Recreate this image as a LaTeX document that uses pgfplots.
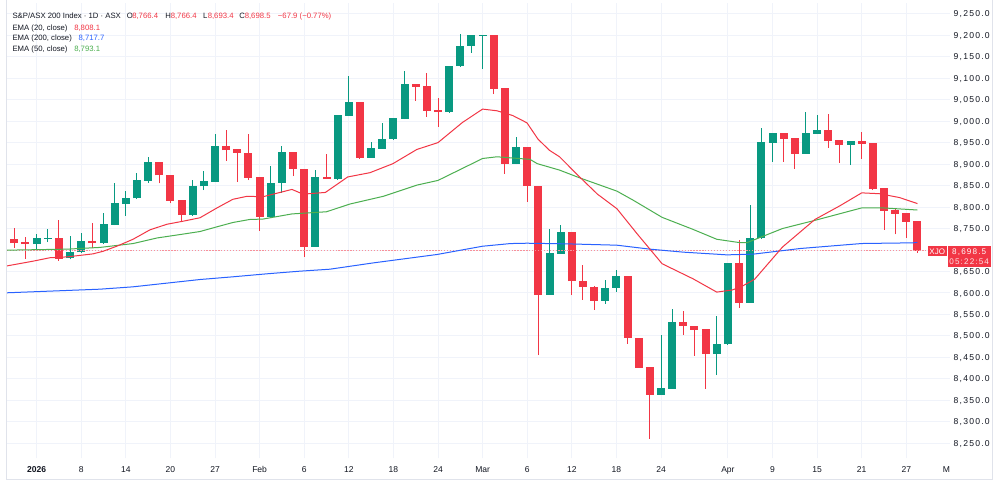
\documentclass[border=0pt]{standalone}
\usepackage{fontspec}
\setmainfont{Liberation Sans}
\newfontfamily\pricefont[LetterSpace=14]{Liberation Sans}
\usepackage{pgfplots}
\pgfplotsset{compat=1.18}
\usepackage{pgfplotstable}
\definecolor{upc}{HTML}{089981}
\definecolor{dnc}{HTML}{F23645}
\definecolor{emab}{HTML}{2962FF}
\definecolor{emag}{HTML}{4CAF50}
\definecolor{emar}{HTML}{F23645}
\definecolor{txt}{HTML}{131722}
\definecolor{gridc}{HTML}{F0F3FA}
\definecolor{framec}{HTML}{E0E3EB}

\pgfplotstableread{
i O H L C
2 8713.6 8736.1 8699.6 8726.0
3 8726.8 8749.3 8718.2 8728.3
5 8681.0 8733.0 8677.9 8694.2
6 8695.0 8738.5 8691.9 8719.8
8 8715.9 8785.0 8715.0 8758.6
9 8758.6 8854.8 8758.0 8807.5
10 8806.7 8837.0 8779.6 8819.9
11 8819.9 8880.4 8819.0 8861.0
12 8861.0 8916.1 8856.4 8902.9
16 8781.1 8864.1 8780.0 8848.6
17 8848.0 8884.3 8839.3 8859.5
18 8858.7 8968.9 8858.0 8941.0
23 8777.1 8895.8 8775.6 8856.3
24 8856.3 8943.2 8833.0 8926.9
27 8707.3 8885.8 8707.0 8868.7
29 8865.0 9013.8 8864.0 9013.8
30 9013.0 9105.4 9012.0 9043.3
32 8915.2 8951.7 8914.4 8936.2
33 8936.2 8996.0 8935.4 8958.7
34 8958.0 9007.6 8957.0 9006.0
35 9005.3 9117.0 9004.5 9085.2
39 9020.8 9129.4 9020.0 9127.9
40 9128.0 9203.9 9127.0 9175.2
41 9175.2 9198.5 9158.9 9198.5
42 9198.5 9200.8 9120.9 9200.8
45 8900.5 8963.4 8900.0 8938.5
48 8596.3 8750.0 8596.0 8691.8
49 8691.8 8759.3 8691.0 8741.4
53 8581.6 8631.2 8575.4 8611.8
54 8611.8 8654.5 8601.7 8639.0
58 8363.5 8503.2 8363.0 8377.5
59 8377.5 8562.2 8376.7 8532.7
63 8457.4 8547.4 8408.5 8480.7
64 8480.7 8670.0 8480.0 8670.0
66 8577.7 8803.6 8577.0 8727.5
67 8727.5 8985.1 8726.7 8950.2
68 8950.2 8972.7 8905.2 8972.7
71 8924.6 9021.6 8923.8 8970.4
72 8970.4 9015.4 8969.6 8978.2
75 8944.8 8954.0 8897.5 8951.8
}\up

\pgfplotstableread{
i O H L C
0 8723.7 8750.8 8705.8 8715.9
1 8717.5 8730.7 8680.2 8713.6
4 8727.6 8770.2 8674.8 8680.2
7 8719.8 8761.7 8705.8 8715.9
13 8902.9 8903.0 8854.8 8873.5
14 8874.2 8874.2 8808.3 8814.5
15 8814.5 8814.5 8767.1 8781.1
19 8941.0 8979.0 8907.6 8932.4
20 8933.2 8934.0 8858.7 8926.2
21 8926.1 8971.1 8862.5 8868.7
22 8868.7 8868.7 8744.5 8777.1
25 8926.9 8926.9 8871.8 8888.1
26 8888.1 8888.1 8684.0 8707.3
28 8868.7 8924.6 8864.8 8864.8
31 9043.3 9043.3 8912.2 8915.2
36 9085.2 9085.2 9047.2 9080.5
37 9081.3 9112.4 9009.9 9023.9
38 9024.7 9054.9 8986.6 9020.8
43 9200.8 9200.8 9062.7 9075.9
44 9075.9 9075.9 8878.0 8900.5
46 8938.5 8938.5 8812.0 8848.5
47 8848.5 8848.5 8455.1 8596.3
50 8741.4 8741.4 8594.8 8627.4
51 8627.4 8664.6 8584.7 8614.9
52 8614.2 8615.7 8561.4 8581.6
55 8639.0 8639.0 8482.2 8495.4
56 8495.4 8495.4 8425.6 8426.4
57 8426.4 8426.4 8261.1 8363.5
60 8532.7 8558.3 8501.6 8523.4
61 8523.4 8523.4 8453.5 8514.8
62 8514.8 8514.8 8377.5 8457.4
65 8670.0 8722.8 8566.1 8577.7
69 8972.7 8972.7 8905.2 8959.5
70 8960.3 8960.3 8889.7 8924.6
73 8978.2 9016.2 8937.8 8954.1
74 8954.1 8954.1 8902.9 8944.8
76 8951.8 8975.1 8911.4 8947.9
77 8947.9 8947.9 8839.3 8841.6
78 8842.4 8842.4 8747.7 8791.1
79 8791.9 8797.4 8736.1 8784.9
80 8784.9 8784.9 8729.1 8765.5
81 8766.4 8766.4 8693.4 8698.5
}\dn

\newcommand\lgf{\fontsize{5.8}{7}\selectfont}
\newcommand\axf{\fontsize{6.4}{7.5}\selectfont}
\pgfplotsset{candle/.style={forget plot, only marks, mark=*, mark size=0pt,
  mark options={draw=none, fill=none, opacity=0}}}

\begin{document}
\begin{tikzpicture}
\begin{scope}[shift={(-5.25pt,341.25pt)}, x=0.75pt, y=-0.75pt]
\useasboundingbox (0,0) rectangle (1000,479);
\fill[white] (0,0) rectangle (1000,479);
\end{scope}

\begin{axis}[
  at={(0,0)}, anchor=south west,
  width=707.25pt, height=341.25pt, scale only axis,
  xmin=-0.655, xmax=83.92, ymin=8214.7, ymax=9273.8,
  axis line style={draw=none}, tick style={draw=none},
  xtick={2,6,10,14,18,22,26,30,34,38,42,46,50,54,58,64,68,72,76,80},
  xticklabels={\textbf{2026},8,14,20,27,Feb,6,12,18,24,Mar,6,12,18,24,Apr,9,15,21,27},
  ytick={8250,8300,8350,8400,8450,8500,8550,8600,8650,8700,8750,8800,8850,8900,8950,9000,9050,9100,9150,9200,9250},
  yticklabels={{8,250.0},{8,300.0},{8,350.0},{8,400.0},{8,450.0},{8,500.0},{8,550.0},{8,600.0},{8,650.0},{},{8,750.0},{8,800.0},{8,850.0},{8,900.0},{8,950.0},{9,000.0},{9,050.0},{9,100.0},{9,150.0},{9,200.0},{9,250.0}},
  yticklabel pos=right,
  grid=major, grid style={gridc, line width=0.75pt},
  xticklabel style={font=\axf, text=txt, anchor=base, inner sep=0pt, yshift=-10.2pt},
  yticklabel style={font=\pricefont\fontsize{6.45}{7.5}\selectfont, text=txt, anchor=base west, inner sep=0pt, xshift=2.6pt, yshift=-2.3pt},
]
% wicks
\addplot[candle, error bars/.cd, y dir=plus, y explicit, error mark=none,
  error bar style={draw=upc, line width=0.75pt}]
  table[x=i, y=L, y error expr=\thisrow{H}-\thisrow{L}] {\up};
\addplot[candle, error bars/.cd, y dir=plus, y explicit, error mark=none,
  error bar style={draw=dnc, line width=0.75pt}]
  table[x=i, y=L, y error expr=\thisrow{H}-\thisrow{L}] {\dn};
% bodies
\addplot[candle, error bars/.cd, y dir=plus, y explicit, error mark=none,
  error bar style={draw=upc, line width=6pt}]
  table[x=i, y=O, y error expr=\thisrow{C}-\thisrow{O}+0.8] {\up};
\addplot[candle, error bars/.cd, y dir=plus, y explicit, error mark=none,
  error bar style={draw=dnc, line width=6pt}]
  table[x=i, y=C, y error expr=\thisrow{O}-\thisrow{C}+0.8] {\dn};
% price line
\addplot[dnc!55, line width=0.75pt, dash pattern=on 1pt off 1.2pt] coordinates {(-0.655,8698.5) (83.92,8698.5)};
% EMA 200
\addplot[emab, line width=0.75pt] coordinates {
(-0.655,8600.4) (7.68,8608.8) (10.65,8614.3) (16.65,8631.3) (19.6,8637.6) (22.66,8644.6) (25.6,8650.7) (28.3,8655.3) (32.2,8670) (37.9,8689.5) (42.0,8708.8) (44.5,8715) (45.98,8715.8) (49.6,8714.3) (54.05,8711.2) (57.0,8702) (60.0,8695) (63.0,8690.2) (63.9,8688.7) (66.25,8690.3) (70.5,8703.5) (76.0,8715.1) (80.6,8716.7) (81,8717.7)};
% EMA 50
\addplot[emag, line width=0.75pt] coordinates {
(-0.655,8699.6) (4.73,8702) (7.68,8706) (10.65,8715) (12.8,8728) (15.13,8737) (16.65,8743) (18.18,8754) (19.6,8764) (21.1,8771) (22.3,8772) (24.9,8784) (28.0,8789) (30.1,8807) (33.1,8825) (36.1,8851) (38.0,8862) (40.2,8890) (42.0,8913) (43.3,8917) (44.5,8914.5) (46.25,8911) (46.9,8901) (48.9,8886) (50.7,8868) (54.05,8837) (55.5,8816) (58.1,8776) (60.87,8748) (63.0,8725) (65.1,8717) (65.7,8717) (68.9,8750) (71.8,8769) (76.0,8798) (77.9,8798) (81,8793.1)};
% EMA 20
\addplot[emar, line width=0.75pt] coordinates {
(-0.655,8663) (1.68,8674) (3.2,8682) (4.73,8684) (6.07,8688) (7.06,8691) (7.96,8697) (9.21,8709) (10.65,8725) (12.17,8747) (13.7,8760) (15.13,8767) (16.65,8775) (18.18,8798) (19.6,8818) (20.87,8825) (22.3,8824) (24.9,8841) (25.9,8830) (27.9,8834) (29.9,8870) (31.9,8880) (33.96,8901) (36.1,8934) (38.0,8950) (40.2,8997) (42.0,9028) (43.3,9024) (44.7,9013) (45.98,8996) (46.97,8958) (48.0,8932) (48.9,8917) (50.7,8870) (52.3,8830) (54.05,8796) (55.85,8738) (58.1,8668) (60.87,8633) (63.0,8602) (64.4,8607) (65.3,8616) (66.4,8632) (68.9,8707) (71.8,8771) (74.05,8803) (76.0,8833) (77.6,8831) (79.4,8822) (81,8808.1)};
\end{axis}

\begin{scope}[shift={(-5.25pt,341.25pt)}, x=0.75pt, y=-0.75pt]
\draw[framec, line width=0.75pt] (6.7,-3) -- (6.7,476.3) -- (992.5,476.3) -- (992.5,-3);
% legend
\begin{scope}[every node/.style={anchor=base west, inner sep=0pt, font=\lgf}]
\node[text=txt] at (12.3,15.5) {S\&P/ASX 200 Index · 1D · ASX};
\node[text=txt] at (126.5,15.5) {O};
\node[text=dnc] at (132,15.5) {8,766.4};
\node[text=txt] at (165.2,15.5) {H};
\node[text=dnc] at (170.5,15.5) {8,766.4};
\node[text=txt] at (202.8,15.5) {L};
\node[text=dnc] at (207.5,15.5) {8,693.4};
\node[text=txt] at (239.2,15.5) {C};
\node[text=dnc] at (244.5,15.5) {8,698.5};
\node[text=dnc] at (277.7,15.5) {−67.9 (−0.77\%)};
\node[text=txt] at (12.3,26.8) {EMA (20, close)};
\node[text=emar] at (74,26.8) {8,808.1};
\node[text=txt] at (12.3,37.2) {EMA (200, close)};
\node[text=emab] at (78.3,37.2) {8,717.7};
\node[text=txt] at (12.3,47.8) {EMA (50, close)};
\node[text=emag] at (74,47.8) {8,793.1};
\end{scope}
% last price labels
\fill[dnc] (927.7,242.7) rectangle (946.7,252.7);
\node[white, font=\fontsize{6}{7}\selectfont, inner sep=0pt] at (937.2,247.9) {XJO};
\fill[dnc] (947.7,242.7) rectangle (990.7,263.3);
\node[white, font=\pricefont\fontsize{6.1}{7}\selectfont, inner sep=0pt, anchor=base] at (969.2,250.6) {8,698.5};
\node[white, opacity=0.85, font=\pricefont\fontsize{6.1}{7}\selectfont, inner sep=0pt, anchor=base] at (969.2,260.6) {05:22:54};
% cut-off May label
\begin{scope}
\clip (938,456) rectangle (949,478);
\node[text=txt, font=\axf, anchor=base, inner sep=0pt] at (951,469) {May};
\end{scope}
\end{scope}
\end{tikzpicture}
\end{document}
